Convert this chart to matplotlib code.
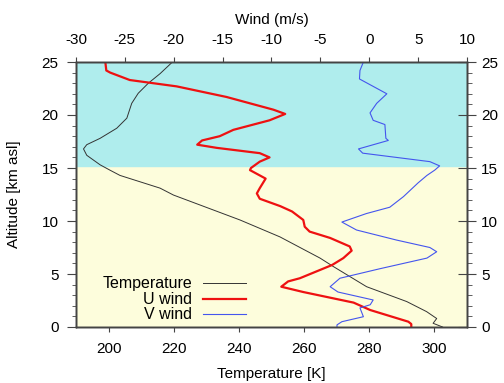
import matplotlib
matplotlib.use("Agg")
import matplotlib.pyplot as plt
from matplotlib.ticker import MultipleLocator
from matplotlib.lines import Line2D

plt.rcParams['font.family'] = ['Liberation Sans', 'DejaVu Sans']
plt.rcParams['font.size'] = 11
plt.rcParams['axes.unicode_minus'] = False

# Temperature profile
t_alt = [0.0, 0.35, 0.8, 1.45, 2.4, 3.8, 4.75, 5.7, 6.5, 8.5, 10.1, 12.45, 13.1,
         14.3, 14.8, 15.3, 16.2, 16.8, 17.2, 17.8, 18.75, 19.7, 21.1, 22.05, 23.0, 23.9, 25.0]
t_val = [302.5, 299.6, 300.7, 297.6, 291.5, 279.2, 274.1, 269.0, 264.9, 252.6, 240.3, 219.9, 215.8,
         203.5, 200.4, 197.4, 193.3, 192.3, 193.3, 197.4, 202.5, 205.6, 207.1, 209.1, 212.2, 215.8, 219.6]

# U wind
u_alt = [0.0, 0.28, 0.5, 1.6, 2.3, 3.3, 3.8, 4.3, 4.6, 5.85, 6.5, 7.2, 7.6, 8.4, 9.0, 9.46,
         10.1, 10.9, 11.4, 12.1, 12.6, 13.1, 14.0, 14.8, 15.0, 15.6, 16.0, 16.4, 16.9, 17.2,
         17.6, 18.0, 18.6, 19.5, 20.1, 20.5, 21.7, 22.7, 23.3, 24.0, 24.2, 25.0]
u_val = [4.3, 4.3, 4.0, 0.1, -1.6, -6.75, -9.0, -8.3, -7.1, -3.8, -2.65, -1.8, -2.0, -4.0, -6.1, -6.6,
         -6.75, -7.9, -9.1, -11.2, -11.5, -11.2, -10.6, -12.2, -12.1, -11.2, -10.2, -11.2, -15.6, -17.6,
         -17.1, -15.3, -13.9, -10.2, -8.6, -9.8, -14.6, -19.7, -24.5, -26.5, -26.9, -27.0]

# V wind
v_alt = [0.0, 0.2, 0.5, 0.97, 1.8, 2.1, 2.55, 3.3, 3.8, 4.6, 5.5, 6.5, 7.1, 7.5, 8.2, 9.15,
         9.9, 10.7, 11.3, 12.3, 13.6, 14.3, 14.8, 15.2, 15.6, 16.4, 16.8, 17.6, 17.8, 19.1,
         19.5, 20.2, 21.1, 22.0, 23.4, 24.2, 25.0]
v_val = [-3.3, -3.3, -2.8, -0.6, -0.95, 0.1, 0.4, -3.2, -4.0, -3.0, 1.1, 5.9, 6.9, 6.2, 2.8, -1.3,
         -2.8, -0.3, 2.1, 3.5, 5.0, 5.9, 6.7, 7.2, 6.2, -0.67, -1.1, 1.95, 1.7, 1.6,
         0.4, 0.08, 0.76, 1.8, -1.0, -0.95, -0.6]

tropopause = 15.2
legend_labels = ['Temperature', 'U wind', 'V wind']
colors = ['#333333', '#ee1111', '#4455ee']
widths = [0.7, 1.6, 0.8]

fig = plt.figure(figsize=(5.04, 3.83), dpi=100)
ax = fig.add_axes([76/504, 1-327/383, (467-76)/504, (327-62)/383])
ax.set_xlim(190, 310)
ax.set_ylim(0, 25)
ax.axhspan(0, tropopause, color='#fdfddc', zorder=0)
ax.axhspan(tropopause, 25, color='#afeded', zorder=0)

ax2 = ax.twiny()
ax2.set_xlim(-30, 10)
ax3 = ax.twinx()
ax3.set_ylim(0, 25)

ax.plot(t_val, t_alt, color=colors[0], lw=widths[0])
ax2.plot(u_val, u_alt, color=colors[1], lw=widths[1])
ax2.plot(v_val, v_alt, color=colors[2], lw=widths[2])

ax.set_xticks([200, 220, 240, 260, 280, 300])
ax.set_yticks([0, 5, 10, 15, 20, 25])
ax.yaxis.set_minor_locator(MultipleLocator(1))
ax3.set_yticks([0, 5, 10, 15, 20, 25])
ax3.yaxis.set_minor_locator(MultipleLocator(1))
ax2.set_xticks(list(range(-30, 11, 5)))

frame_c = '#444444'
for a in (ax, ax2, ax3):
    for s in a.spines.values():
        s.set_color(frame_c)
        s.set_linewidth(1.0)

ax.tick_params(axis='x', which='major', direction='out', length=3.6, color=frame_c, pad=7)
ax.tick_params(axis='y', which='major', direction='out', length=6.5, color=frame_c, pad=6)
ax.tick_params(axis='y', which='minor', direction='out', length=3, color=frame_c)
ax3.tick_params(axis='y', which='major', direction='inout', length=12.5, color=frame_c, pad=4)
ax3.tick_params(axis='y', which='minor', direction='out', length=3.6, color=frame_c)
ax2.tick_params(axis='x', which='major', direction='out', length=3.6, color=frame_c, pad=7)

ax.set_xlabel('Temperature [K]', labelpad=8)
ax.set_ylabel('Altitude [km asl]', labelpad=15)
ax2.set_xlabel('Wind (m/s)', labelpad=7)

# legend (gnuplot style: right-aligned labels, sample to the right)
ly = [0.165, 0.105, 0.048]
for lab, c, w, yy in zip(legend_labels, colors, widths, ly):
    ax3.text(0.297, yy, lab, transform=ax3.transAxes, ha='right', va='center', fontsize=11.5)
    ax3.add_line(Line2D([0.325, 0.436], [yy, yy], transform=ax3.transAxes, color=c, lw=w))

fig.savefig('out.png', dpi=100)
